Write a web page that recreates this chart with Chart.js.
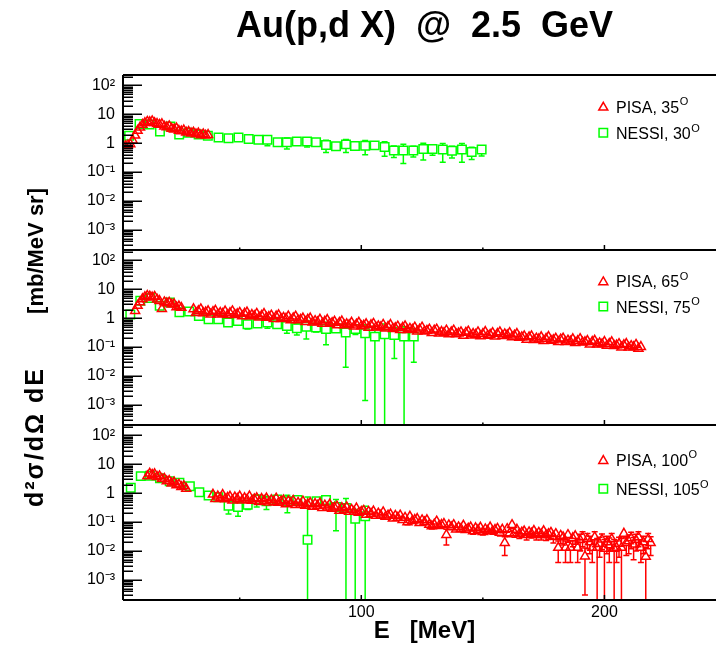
<!DOCTYPE html>
<html>
<head>
<meta charset="utf-8">
<script src="https://cdn.jsdelivr.net/npm/chart.js@4.4.1/dist/chart.umd.min.js"></script>
<style>
  html, body { margin: 0; padding: 0; background: #fff; overflow: hidden; }
  #wrap { width: 716px; height: 647px; overflow: hidden; position: relative; }
  canvas { display: block; }
</style>
</head>
<body>
<div id="wrap"><canvas id="c" width="740" height="647"></canvas></div>
<script>
// ---- Au(p,d X) at 2.5 GeV : deuteron spectra, PISA vs NESSI ----

// PISA 35 deg (E in MeV, d2sigma/dOmega dE in mb/MeV sr)
const pisa35E = [3,4,5,6,7,8,9,10,11,12,13,14,15,16,17,18,19,20,21,22,23,24,25,26,27,28,29,30,31,32,33,34,35,36,37];
const pisa35V = [0.80,0.86,0.93,1.25,1.85,2.7,3.5,4.4,5.0,5.6,5.4,5.8,5.0,4.7,4.4,4.6,3.8,3.6,3.9,3.2,3.0,3.3,2.7,2.6,2.8,2.35,2.5,2.2,2.35,2.05,2.2,1.9,2.05,1.85,1.95];

// NESSI 30 deg
const nessi30E = [4.5,8.8,12.9,17.2,21.5,25.1,29.1,33.1,36.9,41.3,45.4,49.5,53.7,57.7,61.4,65.6,69.4,73.5,77.7,81.4,85.5,89.6,93.7,97.4,101.6,105.5,109.6,113.4,117.3,121.4,125.5,129.3,133.5,137.3,141.4,145.4,149.5];
const nessi30V = [1.8,4.6,4.4,2.55,3.8,2.0,2.3,2.0,1.8,1.58,1.47,1.58,1.40,1.32,1.32,1.07,1.07,1.15,1.15,1.07,0.87,0.78,0.91,0.80,0.82,0.84,0.74,0.56,0.56,0.56,0.63,0.63,0.60,0.55,0.60,0.50,0.60];
const nessi30Err = [0.1,0.3,0.3,0.2,0.3,0.15,0.15,0.15,0.12,0.12,0.12,0.15,0.15,0.12,0.5,0.15,0.44,0.15,0.41,0.15,0.39,0.15,0.43,0.15,0.42,0.15,0.39,0.24,0.36,0.23,0.37,0.25,0.38,0.24,0.38,0.23,0.24];

// PISA 65 deg
const pisa65E = [7,8,9,10,11,12,13,14,15,16,17,18,19,20,21,22,23,24,25,26,
  31,32,33,34,35,36,37,38,39,40, 41,42,43,44,45,46,47,48,49,50,
  51,52,53,54,55,56,57,58,59,60, 61,62,63,64,65,66,67,68,69,70,
  71,72,73,74,75,76,77,78,79,80, 81,82,83,84,85,86,87,88,89,90,
  91,92,93,94,95,96,97,98,99,100, 101,102,103,104,105,106,107,108,109,110,
  111,112,113,114,115,116,117,118,119,120, 121,122,123,124,125,126,127,128,129,130,
  131,132,133,134,135,136,137,138,139,140, 141,142,143,144,145,146,147,148,149,150,
  151,152,153,154,155,156,157,158,159,160, 161,162,163,164,165,166,167,168,169,170,
  171,172,173,174,175,176,177,178,179,180, 181,182,183,184,185,186,187,188,189,190,
  191,192,193,194,195,196,197,198,199,200, 201,202,203,204,205,206,207,208,209,210,
  211,212,213,214,215];
const pisa65V = [1.8,2.7,3.6,4.6,5.4,6.0,5.7,5.3,5.6,4.5,4.0,2.1,3.6,3.3,3.5,3.0,3.1,2.4,2.6,2.3,
  2.07,1.52,1.77,2.05,1.51,1.60,1.78,1.34,1.65,1.84, 1.36,1.54,1.42,1.74,1.29,1.51,1.76,1.31,1.39,1.55,
  1.18,1.45,1.60,1.17,1.31,1.19,1.44,1.06,1.23,1.43, 1.05,1.12,1.25,0.94,1.17,1.29,0.94,1.05,0.97,1.17,
  0.86,1.00,1.15,0.85,0.89,0.99,0.74,0.90,0.99,0.72, 0.81,0.73,0.90,0.65,0.77,0.88,0.65,0.69,0.77,0.57,
  0.70,0.78,0.57,0.63,0.58,0.71,0.52,0.61,0.71,0.53, 0.56,0.63,0.47,0.58,0.65,0.48,0.53,0.49,0.60,0.44,
  0.51,0.59,0.43,0.46,0.52,0.39,0.47,0.53,0.39,0.435, 0.40,0.48,0.35,0.41,0.48,0.35,0.37,0.41,0.31,0.38,
  0.41,0.30,0.34,0.31,0.38,0.28,0.33,0.38,0.28,0.30, 0.33,0.25,0.315,0.35,0.255,0.29,0.27,0.33,0.24,0.285,
  0.34,0.25,0.27,0.31,0.235,0.29,0.33,0.245,0.28,0.26, 0.31,0.22,0.255,0.29,0.21,0.22,0.24,0.18,0.22,0.24,
  0.176,0.20,0.186,0.224,0.163,0.194,0.228,0.167,0.175,0.198, 0.151,0.184,0.20,0.15,0.17,0.155,0.19,0.139,0.163,0.192,
  0.144,0.150,0.165,0.124,0.152,0.168,0.123,0.137,0.126,0.152, 0.112,0.130,0.150,0.110,0.116,0.129,0.097,0.118,0.130,0.097,
  0.110,0.100,0.121,0.088,0.102];

// NESSI 75 deg
const nessi75E = [5.0,9.1,13.1,17.1,21.2,25.2,29.2,33.2,37.2,41.2,45.2,49.2,53.2,57.3,61.4,65.4,69.4,73.5,77.4,81.4,85.5,89.6,93.6,97.6,101.6,105.6,109.6,113.6,117.6,121.6];
const nessi75V = [1.35,4.0,5.0,2.7,3.5,1.6,1.7,1.2,0.92,0.92,0.71,0.80,0.62,0.66,0.71,0.62,0.54,0.45,0.51,0.48,0.42,0.44,0.32,0.42,0.30,0.23,0.28,0.26,0.23,0.23];
const nessi75Err = [0.1,0.3,0.3,0.2,0.3,0.1,0.1,0.1,0.08,0.08,0.1,0.1,0.2,0.15,0.26,0.1,0.24,0.19,0.32,0.15,0.30,0.08,0.30,0.15,0.2986,0.30,0.35,0.22,0.28,0.20];

// PISA 100 deg
const pisa100E = [12,13,14,15,16,17,18,19,20,21,22,23,24,25,26,27,28,
  39,40,41,42,43,44,45,46,47,48, 49,50,51,52,53,54,55,56,57,58,
  59,60,61,62,63,64,65,66,67,68, 69,70,71,72,73,74,75,76,77,78,
  79,80,81,82,83,84,85,86,87,88, 89,90,91,92,93,94,95,96,97,98,
  99,100,101,102,103,104,105,106,107,108, 109,110,111,112,113,114,115,116,117,118,
  119,120,121,122,123,124,125,126,127,128, 129,130,131,132,133,134,135,136,137,138,
  139,140,141,142,143,144,145,146,147,148, 149,150,151,152,153,154,155,156,157,158,
  159,160,161,162,163,164,165,166,167,168, 169,170,171,172,173,174,175,176,177,178,
  179,180,
  181,182,183,184,185,186,187,188,189,190, 191,192,193,194,195,196,197,198,199,200,
  201,202,203,204,205,206,207,208,209,210, 211,212,213,214,215,216,217,218,219];
const pisa100V = [3.9,4.8,4.4,4.6,3.7,3.9,3.1,3.2,2.6,2.7,2.2,2.4,1.9,2.0,1.65,1.75,1.45,
  0.90,0.64,0.78,0.67,0.88,0.62,0.70,0.77,0.56,0.72, 0.64,0.78,0.56,0.68,0.60,0.78,0.55,0.62,0.68,0.50,
  0.64,0.55,0.67,0.48,0.58,0.50,0.66,0.47,0.52,0.57, 0.415,0.53,0.46,0.55,0.39,0.47,0.40,0.52,0.37,0.415,
  0.46,0.34,0.43,0.37,0.45,0.31,0.38,0.32,0.41,0.29, 0.32,0.35,0.25,0.31,0.27,0.33,0.23,0.27,0.23,0.30,
  0.21,0.23,0.25,0.18,0.23,0.195,0.236,0.166,0.20,0.17, 0.22,0.154,0.17,0.185,0.133,0.167,0.143,0.171,0.119,0.143,
  0.10,0.156,0.109,0.12,0.13,0.093,0.117,0.099,0.118,0.082, 0.072,0.083,0.106,0.074,0.081,0.087,0.036,0.078,0.067,0.080,
  0.056,0.067,0.058,0.076,0.054,0.060,0.066,0.048,0.062,0.053, 0.065,0.046,0.057,0.050,0.066,0.048,0.054,0.059,0.043,0.055,
  0.019,0.058,0.041,0.080,0.042,0.055,0.039,0.044,0.048,0.036, 0.045,0.040,0.050,0.036,0.043,0.038,0.049,0.035,0.039,0.043,
  0.031,0.039,
  0.013,0.034,0.030,0.013,0.036,0.013,0.028,0.033,0.013,0.024, 0.030,0.0065,0.026,0.020,0.013,0.030,0.013,0.018,0.025,0.012,
  0.020,0.016,0.026,0.012,0.013,0.018,0.013,0.040,0.019,0.022, 0.028,0.017,0.024,0.030,0.013,0.020,0.0064,0.026,0.019];
const pisa100Err = [0.2,0.25,0.2,0.2,0.15,0.15,0.12,0.12,0.1,0.1,0.08,0.08,0.07,0.07,0.06,0.06,0.05,
  0.04,0.03,0.04,0.03,0.05,0.03,0.04,0.04,0.03,0.04, 0.03,0.04,0.03,0.04,0.03,0.05,0.03,0.03,0.04,0.03,
  0.04,0.03,0.04,0.03,0.03,0.03,0.05,0.03,0.03,0.04, 0.03,0.04,0.03,0.04,0.03,0.03,0.03,0.04,0.03,0.03,
  0.04,0.03,0.03,0.03,0.04,0.03,0.03,0.03,0.04,0.03, 0.03,0.03,0.02,0.03,0.03,0.03,0.02,0.03,0.02,0.03,
  0.02,0.02,0.03,0.02,0.02,0.02,0.02,0.02,0.02,0.02, 0.02,0.02,0.02,0.02,0.02,0.02,0.02,0.02,0.015,0.02,
  0.02,0.02,0.015,0.015,0.015,0.015,0.015,0.015,0.015,0.012, 0.015,0.012,0.015,0.012,0.012,0.012,0.02,0.012,0.01,0.012,
  0.01,0.01,0.01,0.012,0.01,0.01,0.012,0.01,0.012,0.01, 0.012,0.01,0.012,0.01,0.014,0.01,0.012,0.012,0.01,0.012,
  0.012,0.014,0.01,0.02,0.012,0.014,0.012,0.014,0.014,0.012, 0.014,0.012,0.016,0.012,0.014,0.014,0.016,0.012,0.014,0.016,
  0.012,0.014,
  0.009,0.016,0.014,0.009,0.016,0.009,0.014,0.016,0.009,0.014, 0.016,0.0062,0.014,0.012,0.009,0.016,0.014,0.012,0.014,0.013,
  0.012,0.012,0.014,0.013,0.009,0.012,0.014,0.012,0.012,0.014, 0.016,0.012,0.014,0.016,0.009,0.012,0.007,0.014,0.012];

// NESSI 105 deg
const nessi105E = [5.2,9.3,13.1,17.2,21.2,25.2,29.5,33.4,37.2,41.2,45.4,49.3,53.3,57.0,61.0,65.4,69.6,73.7,77.9,81.6,85.5,89.6,93.7,97.5,101.6];
const nessi105V = [1.53,3.9,4.0,3.3,2.6,2.3,1.74,1.08,0.83,0.72,0.37,0.33,0.40,0.60,0.53,0.60,0.53,0.58,0.0245,0.53,0.58,0.33,0.31,0.13,0.16];
const nessi105Err = [0.1,0.3,0.3,0.2,0.2,0.15,0.1,0.08,0.06,0.06,0.18,0.17,0.13,0.27,0.26,0.10,0.32,0.10,0.72,0.10,0.20,0.28,0.35,0.14,0.19];

// axes
const xTickValues = [50, 100, 150, 200];
const xTickLabels = ['', '100', '', '200'];
const yTickValues = [1e-3, 1e-2, 1e-1, 1, 10, 100];
const yTickLabels = ['10\u207B\u00B3', '10\u207B\u00B2', '10\u207B\u00B9', '1', '10', '10\u00B2'];
const X_MIN = 2, X_MAX = 250;
const Y_MIN = 2e-4, Y_MAX = 230;

const TITLE = 'Au(p,d X)  @  2.5  GeV';
const X_TITLE = 'E   [MeV]';
const Y_TITLE_MAIN = 'd\u00B2\u03C3/d\u03A9 dE';
const Y_TITLE_UNIT = '[mb/MeV sr]';

// legend entries per panel
const legendRows = [
  { panel: 'yTop', ds: 0, text: 'PISA, 35',   sup: 'O', dy: 37.7 },
  { panel: 'yTop', ds: 3, text: 'NESSI, 30',  sup: 'O', dy: 64.3 },
  { panel: 'yMid', ds: 1, text: 'PISA, 65',   sup: 'O', dy: 37.3 },
  { panel: 'yMid', ds: 4, text: 'NESSI, 75',  sup: 'O', dy: 63.0 },
  { panel: 'yBot', ds: 2, text: 'PISA, 100',  sup: 'O', dy: 41.0 },
  { panel: 'yBot', ds: 5, text: 'NESSI, 105', sup: 'O', dy: 70.3 }
];

const RED = '#ff0000', GREEN = '#00ff00';
const FONT = '"Liberation Sans", Arial, Helvetica, sans-serif';
Chart.defaults.font.family = FONT;
Chart.defaults.color = '#000';

const panelIds = ['yTop', 'yMid', 'yBot'];

function points(E, V) { return E.map((e, i) => ({ x: e, y: V[i] })); }

function series(label, E, V, err, axis, style, color) {
  return {
    label, data: points(E, V), errors: err,
    xAxisID: 'x', yAxisID: axis,
    showLine: false,
    pointStyle: style,
    pointRadius: style === 'rect' ? 6 : 5.2,
    pointHoverRadius: style === 'rect' ? 6 : 5.2,
    pointBorderWidth: 1.5,
    borderColor: color,
    pointBorderColor: color,
    backgroundColor: 'rgba(0,0,0,0)',
    pointBackgroundColor: 'rgba(0,0,0,0)'
  };
}

const datasets = [
  series('PISA, 35', pisa35E, pisa35V, null, 'yTop', 'triangle', RED),
  series('PISA, 65', pisa65E, pisa65V, null, 'yMid', 'triangle', RED),
  series('PISA, 100', pisa100E, pisa100V, pisa100Err, 'yBot', 'triangle', RED),
  series('NESSI, 30', nessi30E, nessi30V, nessi30Err, 'yTop', 'rect', GREEN),
  series('NESSI, 75', nessi75E, nessi75V, nessi75Err, 'yMid', 'rect', GREEN),
  series('NESSI, 105', nessi105E, nessi105V, nessi105Err, 'yBot', 'rect', GREEN)
];

function logAxis(weight) {
  return {
    type: 'logarithmic', position: 'left',
    stack: 'panels', stackWeight: 1, weight: weight,
    min: Y_MIN, max: Y_MAX,
    grid: { display: false, drawTicks: false },
    border: { display: false },
    afterBuildTicks: s => { s.ticks = yTickValues.map(v => ({ value: v, major: true })); },
    afterFit: s => { s.width = 123; },
    ticks: { autoSkip: false, padding: 8, font: { size: 16 }, color: '#000',
             callback: (v, i) => yTickLabels[i] }
  };
}

// vertical error bars, clipped to each panel
const errorBars = {
  id: 'errorBars',
  beforeDatasetsDraw(chart) {
    const ctx = chart.ctx;
    chart.data.datasets.forEach((ds, di) => {
      if (!ds.errors) return;
      const meta = chart.getDatasetMeta(di);
      const xs = chart.scales[ds.xAxisID], ys = chart.scales[ds.yAxisID];
      const up = ds.pointStyle === 'rect' ? ds.pointRadius * Math.SQRT1_2 : ds.pointRadius;
      const down = ds.pointStyle === 'rect' ? ds.pointRadius * Math.SQRT1_2 : ds.pointRadius / 2;
      ctx.save();
      ctx.beginPath();
      ctx.rect(xs.left, ys.top, xs.right - xs.left, ys.bottom - ys.top);
      ctx.clip();
      ctx.strokeStyle = ds.borderColor;
      ctx.lineWidth = 1.5;
      meta.data.forEach((pt, i) => {
        const v = ds.data[i].y, e = ds.errors[i];
        if (!e) return;
        const x = pt.x, yc = pt.y;
        const yHi = ys.getPixelForValue(v + e);
        const yLo = v - e > 0 ? ys.getPixelForValue(v - e) : ys.bottom + 1;
        ctx.beginPath();
        if (yHi < yc - up) {
          ctx.moveTo(x, yc - up); ctx.lineTo(x, yHi);
          ctx.moveTo(x - 3, yHi); ctx.lineTo(x + 3, yHi);
        }
        if (yLo > yc + down) {
          ctx.moveTo(x, yc + down); ctx.lineTo(x, yLo);
          ctx.moveTo(x - 3, yLo); ctx.lineTo(x + 3, yLo);
        }
        ctx.stroke();
      });
      ctx.restore();
    });
  }
};

// panel frames with inward ticks
const panelFrames = {
  id: 'panelFrames',
  afterDatasetsDraw(chart) {
    const ctx = chart.ctx, xs = chart.scales.x;
    const L = xs.left, R = xs.right;
    ctx.save();
    ctx.strokeStyle = '#000';
    panelIds.forEach(id => {
      const ys = chart.scales[id];
      ctx.lineWidth = 1.5;
      ctx.beginPath();
      for (let p = -4; p <= 2; p++) {
        for (let k = 1; k <= 9; k++) {
          const v = k * Math.pow(10, p);
          if (v < ys.min || v > ys.max) continue;
          const y = Math.round(ys.getPixelForValue(v)) + 0.25;
          ctx.moveTo(L, y);
          ctx.lineTo(L + (k === 1 ? 19 : 10), y);
        }
      }
      xTickValues.forEach(v => {
        const x = xs.getPixelForValue(v);
        ctx.moveTo(x, ys.bottom);
        ctx.lineTo(x, ys.bottom - (v % 100 === 0 ? 5 : 2.5));
      });
      ctx.stroke();
      ctx.lineWidth = 2;
      ctx.beginPath();
      ctx.moveTo(L, ys.top); ctx.lineTo(R, ys.top);
      ctx.moveTo(L, ys.bottom); ctx.lineTo(R, ys.bottom);
      ctx.moveTo(L, ys.top); ctx.lineTo(L, ys.bottom);
      ctx.moveTo(R, ys.top); ctx.lineTo(R, ys.bottom);
      ctx.stroke();
    });
    ctx.restore();
  }
};

// one legend box in each panel
const panelLegends = {
  id: 'panelLegends',
  afterDraw(chart) {
    const ctx = chart.ctx;
    const mx = 603.3, tx = 616;
    legendRows.forEach(row => {
      const ys = chart.scales[row.panel];
      const ds = chart.data.datasets[row.ds];
      const base = ys.top + row.dy;
      const cy = base - 6.5;
      ctx.save();
      ctx.strokeStyle = ds.borderColor;
      ctx.lineWidth = 1.5;
      ctx.beginPath();
      if (ds.pointStyle === 'rect') {
        const h = ds.pointRadius * Math.SQRT1_2;
        ctx.rect(mx - h, cy - h, 2 * h, 2 * h);
      } else {
        const r = ds.pointRadius, c = cy + r / 4;
        ctx.moveTo(mx, c - r);
        ctx.lineTo(mx + r * Math.sin(2 * Math.PI / 3), c + r / 2);
        ctx.lineTo(mx - r * Math.sin(2 * Math.PI / 3), c + r / 2);
        ctx.closePath();
      }
      ctx.stroke();
      ctx.fillStyle = '#000';
      ctx.textBaseline = 'alphabetic';
      ctx.textAlign = 'left';
      ctx.font = '16px ' + FONT;
      ctx.fillText(row.text, tx, base);
      const w = ctx.measureText(row.text).width;
      ctx.font = '11px ' + FONT;
      ctx.fillText(row.sup, tx + w + 0.5, base - 7.7);
      ctx.restore();
    });
  }
};

// shared vertical title to the left of the three panels
const sharedYTitle = {
  id: 'sharedYTitle',
  afterDraw(chart) {
    const ctx = chart.ctx, area = chart.chartArea;
    const start = area.bottom - 93;   // lower end of the text
    const end = area.top + 113;       // upper end of the text
    ctx.save();
    ctx.translate(42.5, start);
    ctx.rotate(-Math.PI / 2);
    ctx.fillStyle = '#000';
    ctx.textAlign = 'left';
    ctx.textBaseline = 'alphabetic';
    ctx.font = 'bold 25px ' + FONT;
    if ('letterSpacing' in ctx) ctx.letterSpacing = '2px';
    ctx.fillText(Y_TITLE_MAIN, 0, 0);
    if ('letterSpacing' in ctx) ctx.letterSpacing = '0px';
    ctx.font = 'bold 22px ' + FONT;
    const w = ctx.measureText(Y_TITLE_UNIT).width;
    ctx.fillText(Y_TITLE_UNIT, (start - end) - w, 0);
    ctx.restore();
  }
};

new Chart(document.getElementById('c'), {
  type: 'scatter',
  data: { datasets },
  options: {
    responsive: false,
    animation: false,
    devicePixelRatio: 1,
    events: [],
    layout: { padding: { left: 0, right: 14, top: 0, bottom: 0 } },
    scales: {
      x: {
        type: 'linear', position: 'bottom', min: X_MIN, max: X_MAX,
        grid: { display: false, drawTicks: false },
        border: { display: false },
        afterBuildTicks: s => { s.ticks = xTickValues.map(v => ({ value: v })); },
        afterFit: s => { s.height = 47; },
        ticks: { autoSkip: false, maxRotation: 0, padding: 3, font: { size: 16 }, color: '#000',
                 callback: (v, i) => xTickLabels[i] },
        title: { display: true, text: X_TITLE, color: '#000',
                 font: { size: 24, weight: 'bold' }, padding: { top: 0, bottom: 1 } }
      },
      yBot: logAxis(1),
      yMid: logAxis(2),
      yTop: logAxis(3)
    },
    plugins: {
      legend: { display: false },
      tooltip: { enabled: false },
      title: {
        display: true, text: TITLE, fullSize: false, color: '#000',
        font: { size: 36, weight: 'bold' },
        padding: { top: 5.6, bottom: 26.2 }
      }
    }
  },
  plugins: [errorBars, panelFrames, panelLegends, sharedYTitle]
});
</script>
</body>
</html>
